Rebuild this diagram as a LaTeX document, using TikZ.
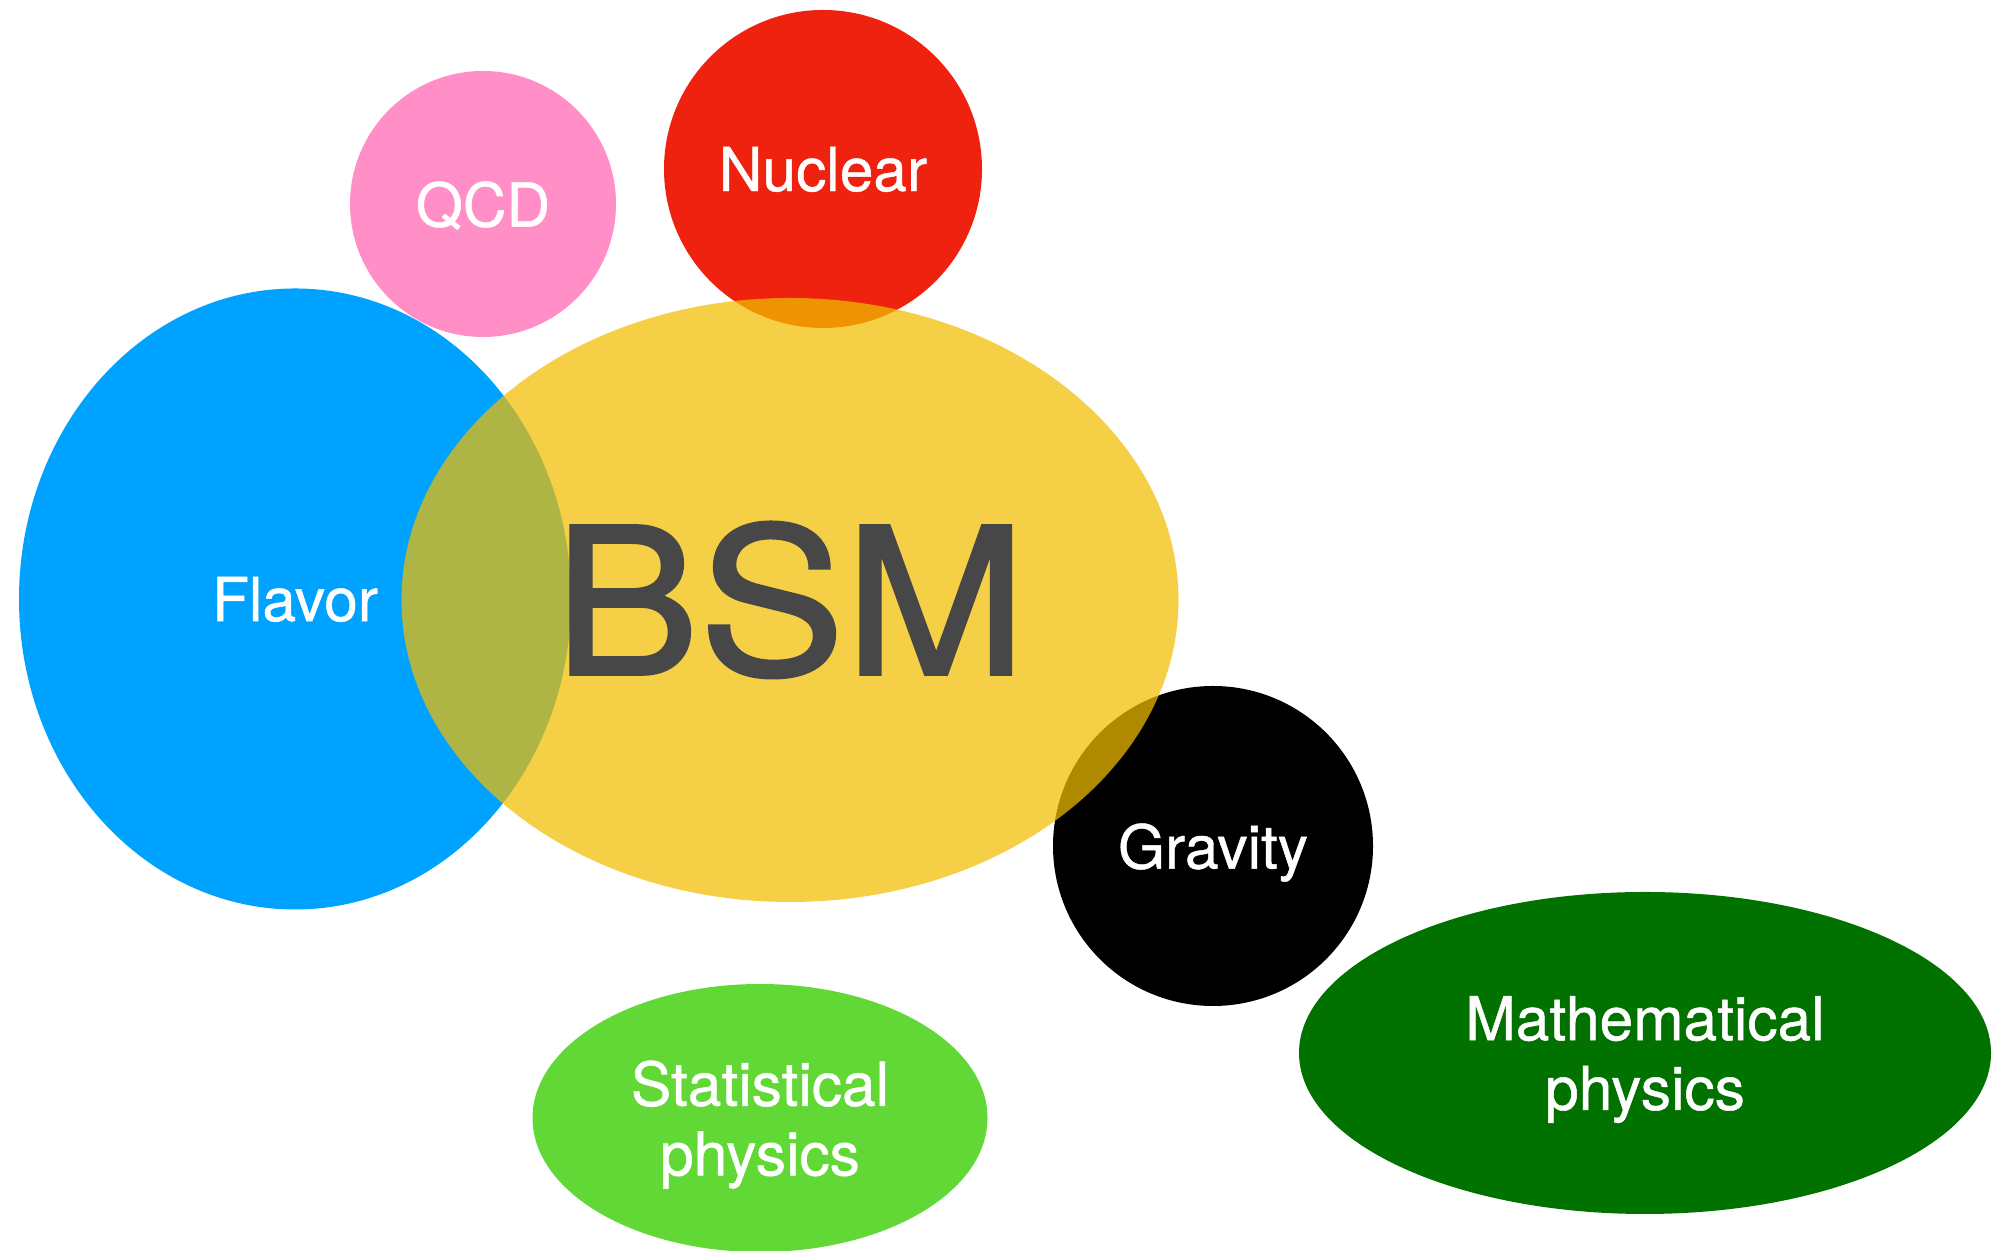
\documentclass[tikz,border=0pt]{standalone}
\usepackage{fontspec}
\setmainfont{TeX Gyre Heros}
\newfontfamily\fieldfont[FakeBold=0.8]{TeX Gyre Heros}
\newfontfamily\bsmfont[FakeBold=1.5, FakeStretch=1.07]{TeX Gyre Heros}
\usetikzlibrary{shapes.geometric}

\definecolor{flavorblue}{RGB}{0,162,255}
\definecolor{qcdpink}{RGB}{255,143,198}
\definecolor{nuclearred}{RGB}{238,34,14}
\definecolor{statgreen}{RGB}{97,216,54}
\definecolor{mathgreen}{RGB}{1,113,0}
\definecolor{bsmyellow}{RGB}{241,189,0}
\definecolor{bsmgray}{RGB}{71,71,71}

\begin{document}
\begin{tikzpicture}[
  field/.style={inner sep=0pt, text=white, align=center, text depth=0pt,
    font=\fieldfont\fontsize{17.2}{19.8}\selectfont},
  blob/.style={field, ellipse},
  disc/.style={field, circle}
]

% Page frame
\useasboundingbox (0,0) rectangle (20.04,12.51);

%% ---- Fields around the centre ----------------------------
\node[blob, fill=flavorblue, minimum width=5.52cm, minimum height=6.21cm]
  (flavor) at (2.95,6.52) {Flavor};
\node[disc, fill=qcdpink, minimum size=2.66cm]
  (qcd) at (4.83,10.47) {QCD};
\node[disc, fill=nuclearred, minimum size=3.18cm]
  (nuclear) at (8.23,10.82) {Nuclear};
\node[disc, fill=black, minimum size=3.20cm]
  (gravity) at (12.13,4.05) {Gravity};

%% ---- BSM on top, see-through -----------------------------
\node[ellipse, inner sep=0pt, fill=bsmyellow, fill opacity=0.73, text opacity=1,
  text=bsmgray, font=\bsmfont\fontsize{58}{60}\selectfont,
  minimum width=7.77cm, minimum height=6.04cm]
  (bsm) at (7.90,6.51) {BSM};

%% ---- Separate fields below -------------------------------
\node[blob, fill=statgreen, minimum width=4.55cm, minimum height=2.68cm]
  (stat) at (7.60,1.33) {Statistical\\physics};
\node[blob, fill=mathgreen, minimum width=6.92cm, minimum height=3.22cm]
  (math) at (16.45,1.98) {Mathematical\\physics};

\end{tikzpicture}
\end{document}
